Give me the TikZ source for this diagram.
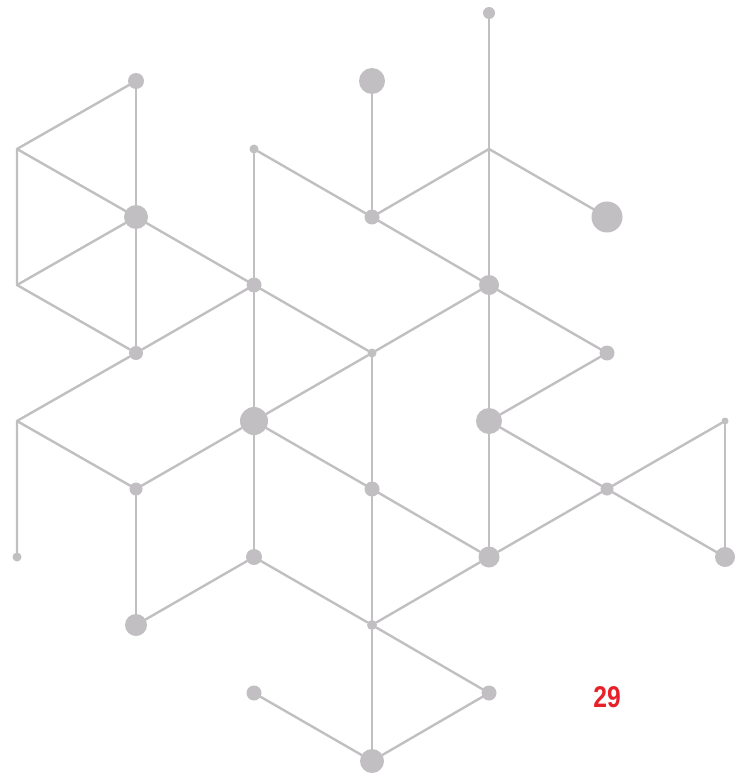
\documentclass[tikz,border=0pt]{standalone}
\usepackage{fontspec}
\newfontfamily\numfont{Liberation Sans}
\definecolor{dotgray}{HTML}{C1BFC1}
\definecolor{numred}{HTML}{E8202A}
\begin{document}
\begin{tikzpicture}[x=1pt,y=-1pt,
  dot/.style={circle,fill=dotgray,draw=none,inner sep=0pt,minimum size=#1},
  link/.style={draw=dotgray,line width=2.4pt}]
\useasboundingbox (0,0) rectangle (736,778);
% dots
\node[dot=12] (a) at (489,13) {};
\node[dot=16] (b) at (136,81) {};
\node[dot=26] (c) at (372,81) {};
\node[dot=9]  (d) at (254,149) {};
\node[dot=24] (e) at (136,217) {};
\node[dot=15] (f) at (372,217) {};
\node[dot=31] (g) at (607,217) {};
\node[dot=15] (h) at (254,285) {};
\node[dot=20] (i) at (489,285) {};
\node[dot=14] (j) at (136,353) {};
\node[dot=9]  (k) at (372,353) {};
\node[dot=15] (l) at (607,353) {};
\node[dot=28] (m) at (254,421) {};
\node[dot=26] (n) at (489,421) {};
\node[dot=7]  (o) at (725,421) {};
\node[dot=13] (p) at (136,489) {};
\node[dot=15] (q) at (372,489) {};
\node[dot=13] (r) at (607,489) {};
\node[dot=9]  (s) at (17,557) {};
\node[dot=16] (t) at (254,557) {};
\node[dot=21] (u) at (489,557) {};
\node[dot=20] (v) at (725,557) {};
\node[dot=22] (w) at (136,625) {};
\node[dot=10] (x) at (372,625) {};
\node[dot=15] (y) at (254,693) {};
\node[dot=15] (z) at (489,693) {};
\node[dot=24] (aa) at (372,761) {};
% corners
\coordinate (c1) at (17,149);
\coordinate (c2) at (17,285);
\coordinate (c3) at (489,149);
\coordinate (c4) at (17,421);
% links
\begin{scope}[line cap=round,line join=round]
\draw[link] (b) -- (c1) -- (c2) -- (j);
\draw[link] (b) -- (e) -- (j);
\draw[link] (c1) -- (e) -- (c2);
\draw[link] (e) -- (h);
\draw[link] (d) -- (h);
\draw[link] (d) -- (f);
\draw[link] (c) -- (f);
\draw[link] (f) -- (c3);
\draw[link] (a) -- (c3) -- (i);
\draw[link] (c3) -- (g);
\draw[link] (f) -- (i);
\draw[link] (h) -- (j);
\draw[link] (h) -- (k);
\draw[link] (h) -- (m);
\draw[link] (i) -- (k);
\draw[link] (i) -- (l);
\draw[link] (i) -- (n);
\draw[link] (l) -- (n);
\draw[link] (j) -- (c4) -- (s);
\draw[link] (c4) -- (p);
\draw[link] (k) -- (m);
\draw[link] (k) -- (q);
\draw[link] (m) -- (p);
\draw[link] (m) -- (q);
\draw[link] (m) -- (t);
\draw[link] (n) -- (r);
\draw[link] (n) -- (u);
\draw[link] (o) -- (r);
\draw[link] (o) -- (v);
\draw[link] (p) -- (w);
\draw[link] (q) -- (u);
\draw[link] (q) -- (x);
\draw[link] (r) -- (u);
\draw[link] (r) -- (v);
\draw[link] (t) -- (w);
\draw[link] (t) -- (x);
\draw[link] (u) -- (x);
\draw[link] (x) -- (z);
\draw[link] (x) -- (aa);
\draw[link] (y) -- (aa);
\draw[link] (z) -- (aa);
\end{scope}
% page number
\node[inner sep=0pt,text=numred] (num) at (607,697.5)
  {\scalebox{0.82}[1]{\numfont\bfseries\fontsize{30}{30}\selectfont 29}};
\end{tikzpicture}
\end{document}
